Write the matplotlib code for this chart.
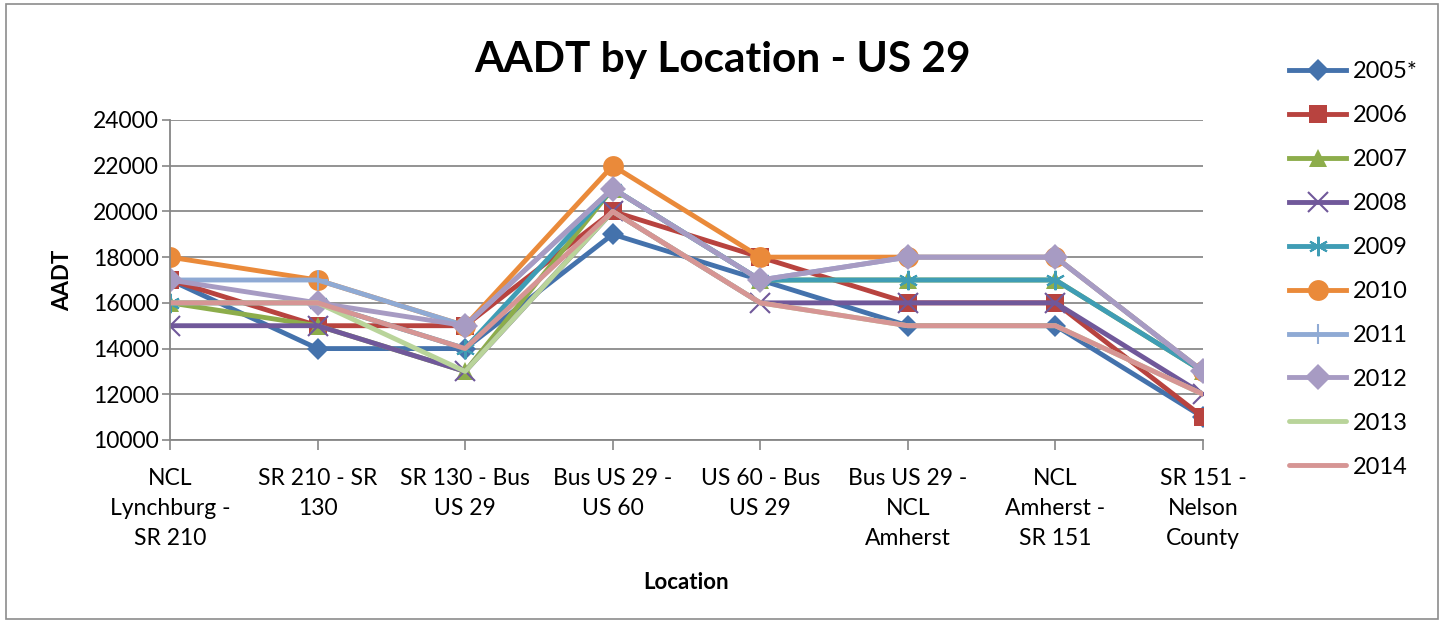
import matplotlib
matplotlib.use("Agg")
import matplotlib.pyplot as plt
from matplotlib.patches import Rectangle

plt.rcParams['font.family'] = ['Lato', 'DejaVu Sans']

locations = ["NCL\nLynchburg -\nSR 210", "SR 210 - SR\n130", "SR 130 - Bus\nUS 29",
             "Bus US 29 -\nUS 60", "US 60 - Bus\nUS 29", "Bus US 29 -\nNCL\nAmherst",
             "NCL\nAmherst -\nSR 151", "SR 151 -\nNelson\nCounty"]

aadt_2005 = [17000, 14000, 14000, 19000, 17000, 15000, 15000, 11000]
aadt_2006 = [17000, 15000, 15000, 20000, 18000, 16000, 16000, 11000]
aadt_2007 = [16000, 15000, 13000, 21000, 17000, 17000, 17000, 13000]
aadt_2008 = [15000, 15000, 13000, 20000, 16000, 16000, 16000, 12000]
aadt_2009 = [16000, 16000, 14000, 21000, 17000, 17000, 17000, 13000]
aadt_2010 = [18000, 17000, 15000, 22000, 18000, 18000, 18000, 13000]
aadt_2011 = [17000, 17000, 15000, 21000, 17000, 18000, 18000, 13000]
aadt_2012 = [17000, 16000, 15000, 21000, 17000, 18000, 18000, 13000]
aadt_2013 = [16000, 16000, 13000, 20000, 16000, 15000, 15000, 12000]
aadt_2014 = [16000, 16000, 14000, 20000, 16000, 15000, 15000, 12000]

years = ["2005*", "2006", "2007", "2008", "2009", "2010", "2011", "2012", "2013", "2014"]
series = [aadt_2005, aadt_2006, aadt_2007, aadt_2008, aadt_2009,
          aadt_2010, aadt_2011, aadt_2012, aadt_2013, aadt_2014]

colors = ["#4472AC", "#B8433F", "#8DAD4B", "#70589A", "#3F9DB5",
          "#EA8A3A", "#8FAAD4", "#A79BC3", "#B9D49A", "#D69594"]
markers = ["D", "s", "^", "x", "*", "o", "+", "D", None, None]
msizes = [11, 13, 13, 14, 14, 15, 15, 13, 0, 0]

fig = plt.figure(figsize=(14.44, 6.23), dpi=100)
fig.patches.append(Rectangle((0.004, 0.006), 0.992, 0.988, transform=fig.transFigure,
                             fill=False, edgecolor="#8c8c8c", linewidth=1.2))
ax = fig.add_axes([170 / 1444, 1 - 440 / 623, (1203 - 170) / 1444, 320 / 623])

x = list(range(len(locations)))
for vals, yr, c, m, ms in zip(series, years, colors, markers, msizes):
    if m is None:
        ax.plot(x, vals, color=c, linewidth=3.5, label=yr, solid_capstyle='round')
    elif m in ("x", "+", "*"):
        mk = m
        if m == "*":
            mk = (6, 2, 0)
        ax.plot(x, vals, color=c, linewidth=3.5, marker=mk, markersize=ms,
                markeredgewidth=1.5, markeredgecolor=c, label=yr)
    else:
        ax.plot(x, vals, color=c, linewidth=3.5, marker=m, markersize=ms,
                markeredgewidth=0, label=yr)

ax.set_xlim(0, 7)
ax.set_ylim(10000, 24000)
ax.set_yticks(range(10000, 24001, 2000))
ax.set_xticks(x)
ax.set_xticklabels(locations, fontsize=16.5, linespacing=1.55)
ax.tick_params(axis='y', labelsize=16.5, length=6, color="#868686", width=1.2, pad=2)
ax.tick_params(axis='x', length=7, color="#868686", width=1.2, pad=13)
ax.grid(axis='y', color="#8a8a8a", linewidth=1.3)
ax.set_axisbelow(True)
for s in ["top", "right"]:
    ax.spines[s].set_visible(False)
for s in ["left", "bottom"]:
    ax.spines[s].set_color("#868686")
    ax.spines[s].set_linewidth(1.3)

ax.set_ylabel("AADT", fontsize=16, fontweight='bold', labelpad=14)
ax.set_xlabel("Location", fontsize=16, fontweight='bold', labelpad=16)
fig.text(0.5, 1 - 60 / 623, "AADT by Location - US 29", ha='center', va='center',
         fontsize=30.5, fontweight='bold')

fig.legend(loc='upper left', bbox_to_anchor=(1280 / 1444, 1 - 52 / 623), frameon=False,
           fontsize=17, handlelength=2.4, labelspacing=0.97, handletextpad=0.3,
           borderaxespad=0)

fig.savefig("out.png", dpi=100)
